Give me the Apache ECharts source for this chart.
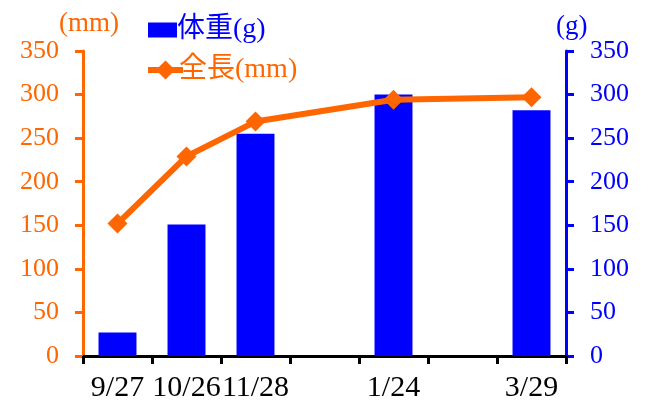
<!DOCTYPE html>
<html>
<head>
<meta charset="utf-8">
<script src="https://cdn.jsdelivr.net/npm/echarts@6/dist/echarts.min.js"></script>
<style>
  html, body { margin: 0; padding: 0; background: #fff; }
  #chart { width: 648px; height: 402px; }
</style>
</head>
<body>
<div id="chart"></div>
<script>
// Survey dates; blank slots keep the spacing between sampling periods
const categories = ['9/27', '10/26', '11/28', '', '1/24', ' ', '3/29'];
// Body weight (g) and total length (mm) per survey date
const weight = [27, 151, 255, null, 300, null, 282];
const length = [152, 229, 269, null, 294, null, 297];
const yTicks = { min: 0, max: 350, interval: 50 };

const ORANGE = '#FF6600';
const BLUE = '#0000FF';
const SERIF = '"Liberation Serif", "Times New Roman", "Noto Sans CJK JP", serif';
const MIXED = '"Liberation Serif", "Noto Sans CJK JP", serif';

const chart = echarts.init(document.getElementById('chart'));

function valueAxis(color, position) {
  return {
    type: 'value',
    position: position,
    min: yTicks.min,
    max: yTicks.max,
    interval: yTicks.interval,
    splitLine: { show: false },
    axisLine: { show: true, lineStyle: { color: color, width: 3 } },
    axisTick: { show: true, inside: false, length: 8, lineStyle: { color: color, width: 3 } },
    axisLabel: { color: color, fontFamily: SERIF, fontSize: 26, margin: 24 }
  };
}

chart.setOption({
  animation: false,
  backgroundColor: '#fff',
  grid: { left: 83, right: 82, top: 51, bottom: 46, containLabel: false, outerBoundsMode: 'none' },
  legend: [
    {
      data: [{ name: '体重(g)', icon: 'rect' }],
      left: 143, top: 11,
      itemWidth: 29, itemHeight: 15, itemGap: 0,
      textStyle: { color: BLUE, fontFamily: MIXED, fontSize: 28, padding: [0, 0, 0, -5] }
    },
    {
      data: ['全長(mm)'],
      left: 140, top: 51,
      itemWidth: 35, itemHeight: 24, itemGap: 0,
      lineStyle: { width: 6 },
      textStyle: { color: ORANGE, fontFamily: MIXED, fontSize: 28, padding: [0, 0, 0, -9] }
    }
  ],
  xAxis: {
    type: 'category',
    data: categories,
    axisLine: { lineStyle: { color: '#000', width: 3 } },
    axisTick: { show: true, length: 8, lineStyle: { color: '#000', width: 3 } },
    axisLabel: { color: '#000', fontFamily: SERIF, fontSize: 30, margin: 17, interval: 0 }
  },
  yAxis: [valueAxis(ORANGE, 'left'), valueAxis(BLUE, 'right')],
  graphic: [
    { type: 'text', left: 59, top: 10, style: { text: '(mm)', fill: ORANGE, font: '27px ' + SERIF } },
    { type: 'text', left: 556, top: 13, style: { text: '(g)', fill: BLUE, font: '27px ' + SERIF } }
  ],
  series: [
    {
      name: '体重(g)',
      type: 'bar',
      yAxisIndex: 1,
      data: weight,
      barWidth: '55%',
      itemStyle: { color: BLUE }
    },
    {
      name: '全長(mm)',
      type: 'line',
      yAxisIndex: 0,
      data: length,
      connectNulls: true,
      symbol: 'diamond',
      symbolSize: 20,
      lineStyle: { color: ORANGE, width: 6 },
      itemStyle: { color: ORANGE }
    }
  ]
});
</script>
</body>
</html>
